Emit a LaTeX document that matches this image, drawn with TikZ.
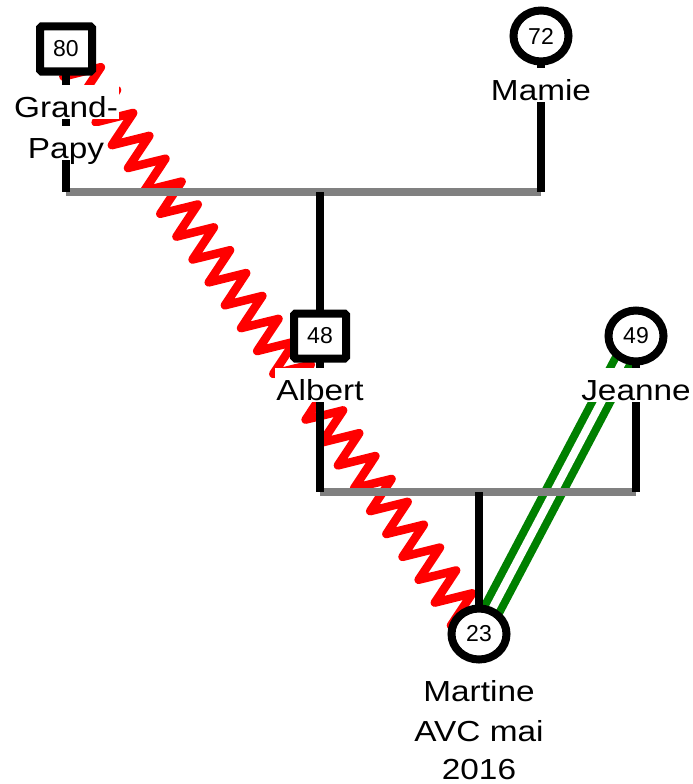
\documentclass[tikz,border=0pt]{standalone}
\usepackage{fontspec}
\setmainfont{Liberation Sans}[FakeStretch=1.15]
\newfontfamily\numfont{Liberation Sans}
\usetikzlibrary{shapes.geometric,decorations.pathmorphing,backgrounds}
\definecolor{kgray}{RGB}{128,128,128}
\definecolor{kgreen}{RGB}{0,128,0}
\begin{document}
\begin{tikzpicture}[x=1pt,y=-1pt,
  male/.style={draw,line width=8pt,fill=white,minimum width=52pt,minimum height=45pt,rounded corners=1.5pt,inner sep=0pt,font=\numfont\fontsize{23}{23}\selectfont},
  female/.style={ellipse,draw,line width=8pt,fill=white,minimum width=55pt,minimum height=51pt,inner sep=0pt,font=\numfont\fontsize{23}{23}\selectfont},
  lbl/.style={fill=white,inner xsep=1pt,inner ysep=0pt,text height=32pt,text depth=2pt,anchor=base,font=\fontsize{29}{35}\selectfont},
  kin/.style={line width=8pt,black},
  genbar/.style={line width=8.5pt,kgray},
  conflict/.style={red,line width=8.5pt,line join=round,line cap=round,decorate,decoration={zigzag,segment length=28pt,amplitude=18pt}},
  closerel/.style={kgreen,line width=8pt,double=white,double distance=8pt}]
\useasboundingbox (0,0) rectangle (693,784);
% persons
\node[male] (gp) at (66,49) {80};
\node[female] (mam) at (541,36) {72};
\node[male] (alb) at (320,336) {48};
\node[female] (jea) at (636,336) {49};
\node[female] (mar) at (479,634) {23};
% labels
\node[lbl] (gpl1) at (66,117) {Grand-};
\node[lbl] (gpl2) at (66,158) {Papy};
\node[lbl] (maml) at (541,100) {Mamie};
\node[lbl] (albl) at (320,400) {Albert};
\node[lbl] (jeal) at (636,400) {Jeanne};
\node[lbl] (marl1) at (479,701) {Martine};
\node[lbl] (marl2) at (479,741) {AVC mai};
\node[lbl, text depth=0pt] (marl3) at (479,779) {2016};
% junction points
\coordinate (b1l) at (66,192);
\coordinate (b1m) at (320,192);
\coordinate (b1r) at (541,192);
\coordinate (b2l) at (320,492);
\coordinate (b2m) at (479,492);
\coordinate (b2r) at (636,492);
\begin{pgfonlayer}{background}
\draw[conflict] (gp.center) -- (mar.center);
\draw[closerel] (jea.center) -- (mar.center);
\draw[genbar] (b1l) -- (b1r);
\draw[genbar] (b2l) -- (b2r);
\draw[kin] (gp.center) -- (b1l);
\draw[kin] (mam.center) -- (b1r);
\draw[kin] (b1m) -- (alb.center) -- (b2l);
\draw[kin] (jea.center) -- (b2r);
\draw[kin] (b2m) -- (mar.center);
\end{pgfonlayer}
\end{tikzpicture}
\end{document}
